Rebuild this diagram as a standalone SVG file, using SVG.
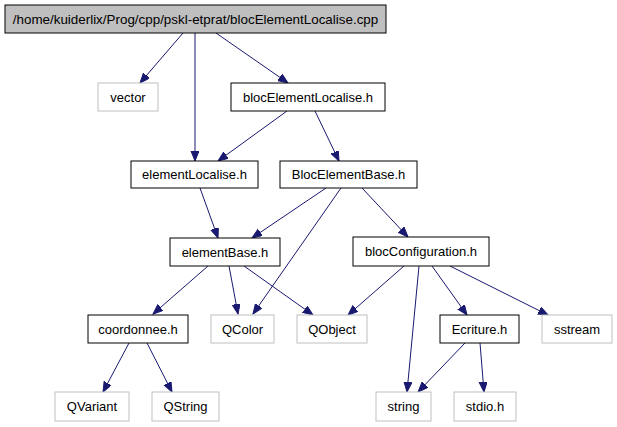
<svg xmlns="http://www.w3.org/2000/svg" width="617" height="427" viewBox="0 0 617 427">
<style>
rect{stroke-width:1}
.doc{fill:#fff;stroke:#000}
.ext{fill:#fff;stroke:#bfbfbf}
.root{fill:#bfbfbf;stroke:#000}
text{font-family:"Liberation Sans",Arial,sans-serif;font-size:13px;text-anchor:middle;fill:#000}
.e{stroke:#191970;stroke-width:1;fill:none;marker-end:url(#a)}
</style>
<defs>
<marker id="a" markerUnits="userSpaceOnUse" markerWidth="12" markerHeight="10" refX="10" refY="4" orient="auto">
<path d="M0,0 L10,4 L0,8 Z" fill="#191970" stroke="#191970"/>
</marker>
</defs>
<g id="edges">
<path class="e" d="M183,33 L140,83"/>
<path class="e" d="M195,33 L195,161"/>
<path class="e" d="M216,33 L288,83"/>
<path class="e" d="M287,111 L218,161"/>
<path class="e" d="M315,111 L339,161"/>
<path class="e" d="M200,188 L218,238"/>
<path class="e" d="M326,188 L252,238"/>
<path class="e" d="M341,188 L253,314"/>
<path class="e" d="M362,188 L408,237"/>
<path class="e" d="M208,266 L153,314"/>
<path class="e" d="M229,266 L238,314"/>
<path class="e" d="M244,266 L313,315"/>
<path class="e" d="M404,266 L348,315"/>
<path class="e" d="M419,266 L407,392"/>
<path class="e" d="M432,266 L467,315"/>
<path class="e" d="M450,266 L548,315"/>
<path class="e" d="M465,343 L418,392"/>
<path class="e" d="M480,343 L484,392"/>
<path class="e" d="M129,343 L103,392"/>
<path class="e" d="M147,343 L172,392"/>
</g>
<g id="root"><rect class="root" x="5" y="5" width="381" height="28"/><text x="195.5" y="23.5" style="font-size:13.4px">/home/kuiderlix/Prog/cpp/pskl-etprat/blocElementLocalise.cpp</text></g>
<g id="vector"><rect class="ext" x="98" y="83" width="60" height="28"/><text x="128" y="101.5">vector</text></g>
<g id="blocElementLocalise"><rect class="doc" x="231" y="83" width="154" height="28"/><text x="308" y="101.5">blocElementLocalise.h</text></g>
<g id="elementLocalise"><rect class="doc" x="131" y="161" width="127" height="27"/><text x="194.5" y="179">elementLocalise.h</text></g>
<g id="BlocElementBase"><rect class="doc" x="280" y="161" width="137" height="27"/><text x="348.5" y="179">BlocElementBase.h</text></g>
<g id="elementBase"><rect class="doc" x="170" y="238" width="110" height="28"/><text x="225" y="256.5">elementBase.h</text></g>
<g id="blocConfiguration"><rect class="doc" x="353" y="237" width="136" height="29"/><text x="421" y="256">blocConfiguration.h</text></g>
<g id="coordonnee"><rect class="doc" x="88" y="315" width="100" height="28"/><text x="138" y="333.5">coordonnee.h</text></g>
<g id="QColor"><rect class="ext" x="211" y="315" width="63" height="28"/><text x="242.5" y="333.5">QColor</text></g>
<g id="QObject"><rect class="ext" x="297" y="315" width="70" height="28"/><text x="332" y="333.5">QObject</text></g>
<g id="Ecriture"><rect class="doc" x="440" y="315" width="79" height="28"/><text x="479.5" y="333.5">Ecriture.h</text></g>
<g id="sstream"><rect class="ext" x="542" y="315" width="70" height="28"/><text x="577" y="333.5">sstream</text></g>
<g id="QVariant"><rect class="ext" x="55" y="392" width="74" height="29"/><text x="92" y="411">QVariant</text></g>
<g id="QString"><rect class="ext" x="152" y="392" width="67" height="29"/><text x="185.5" y="411">QString</text></g>
<g id="string"><rect class="ext" x="376" y="392" width="55" height="29"/><text x="403.5" y="411">string</text></g>
<g id="stdio"><rect class="ext" x="454" y="392" width="62" height="29"/><text x="485" y="411">stdio.h</text></g>
</svg>
